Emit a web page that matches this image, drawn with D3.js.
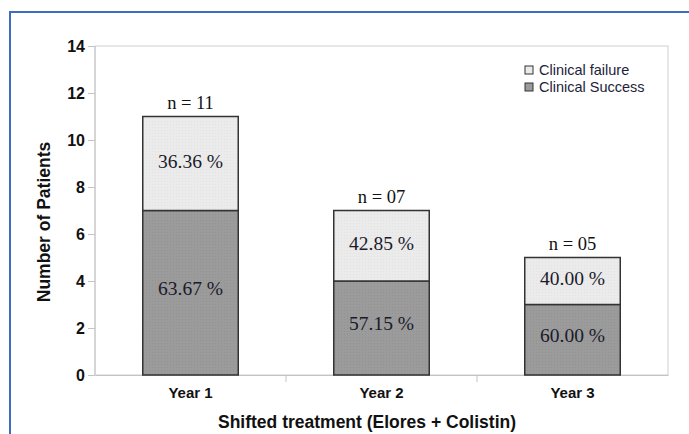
<!DOCTYPE html>
<html>
<head>
<meta charset="utf-8">
<script src="https://cdn.jsdelivr.net/npm/d3@7/dist/d3.min.js"></script>
<style>
  html, body { margin: 0; padding: 0; background: #fff; }
  svg { display: block; }
</style>
</head>
<body>
<svg id="chart" width="689" height="434"></svg>
<script>
// Patients per year on the shifted treatment
const years = ["Year 1", "Year 2", "Year 3"];
const success = [7, 4, 3];
const failure = [4, 3, 2];
const totalLabels = ["n = 11", "n = 07", "n = 05"];
const successPct = ["63.67 %", "57.15 %", "60.00 %"];
const failurePct = ["36.36 %", "42.85 %", "40.00 %"];
const yTicks = [0, 2, 4, 6, 8, 10, 12, 14];
const seriesNames = ["Clinical failure", "Clinical Success"];

const colors = { failure: "#ebebeb", success: "#9b9b9b" };
const sans = "'Liberation Sans', Arial, sans-serif";
const serif = "'Liberation Serif', 'Times New Roman', serif";

const svg = d3.select("#chart");
const margin = { left: 95, right: 21, top: 46, bottom: 59 };
const W = 689, H = 434;
const plotW = W - margin.left - margin.right;
const plotH = H - margin.top - margin.bottom;

// frame around the figure
svg.append("line").attr("x1", 10).attr("x2", W).attr("y1", 12).attr("y2", 12)
  .attr("stroke", "#3d6cc0").attr("stroke-width", 2);
svg.append("line").attr("x1", 10).attr("x2", 10).attr("y1", 11).attr("y2", H)
  .attr("stroke", "#3d6cc0").attr("stroke-width", 2);

const g = svg.append("g").attr("transform", `translate(${margin.left},${margin.top})`);

const x = d3.scaleBand().domain(years).range([0, plotW]).paddingInner(0.5).paddingOuter(0.25);
const y = d3.scaleLinear().domain([0, 14]).range([plotH, 0]);

// plot-area border
g.append("rect").attr("x", 0).attr("y", 0).attr("width", plotW).attr("height", plotH)
  .attr("fill", "none").attr("stroke", "#cfcfcf").attr("stroke-width", 1);

// dotted texture for the bar fills
const defs = svg.append("defs");
function texture(id, base, dot) {
  const p = defs.append("pattern").attr("id", id).attr("patternUnits", "userSpaceOnUse")
    .attr("width", 3).attr("height", 3);
  p.append("rect").attr("width", 3).attr("height", 3).attr("fill", base);
  p.append("rect").attr("width", 1).attr("height", 1).attr("fill", dot);
}
texture("texF", colors.failure, "#e2e2e2");
texture("texS", colors.success, "#929292");

function boldLabels(sel, size) {
  sel.attr("fill", "#111").attr("font-family", sans).attr("font-size", size).attr("font-weight", "bold")
    .style("font-family", sans).style("font-size", size + "px").style("font-weight", "bold");
}

// y axis
const yAxis = g.append("g").call(d3.axisLeft(y).tickValues(yTicks).tickSize(7).tickPadding(3));
yAxis.select(".domain").attr("stroke", "#c4c4c4").attr("d", `M0,${plotH}V0`);
yAxis.selectAll(".tick line").attr("stroke", "#c4c4c4");
boldLabels(yAxis.selectAll(".tick text"), 16);

// x axis: ticks sit on the band boundaries
const xAxis = g.append("g").attr("transform", `translate(0,${plotH})`)
  .call(d3.axisBottom(x).tickSize(0).tickPadding(12));
xAxis.select(".domain").attr("stroke", "#c4c4c4");
boldLabels(xAxis.selectAll(".tick text"), 15);
const step = x.step();
const bounds = [1, 2].map(i => x(years[i]) - x.paddingInner() * step / 2);
g.selectAll(".xb").data(bounds).enter().append("line")
  .attr("x1", d => d).attr("x2", d => d).attr("y1", plotH).attr("y2", plotH + 7)
  .attr("stroke", "#c4c4c4");

// bars
const bw = x.bandwidth();
const bars = g.selectAll(".bar").data(years).enter().append("g");
bars.append("rect")
  .attr("x", d => x(d)).attr("width", bw)
  .attr("y", (d, i) => y(success[i])).attr("height", (d, i) => y(0) - y(success[i]))
  .attr("fill", "url(#texS)").attr("stroke", "#333").attr("stroke-width", 1.5);
bars.append("rect")
  .attr("x", d => x(d)).attr("width", bw)
  .attr("y", (d, i) => y(success[i] + failure[i])).attr("height", (d, i) => y(success[i]) - y(success[i] + failure[i]))
  .attr("fill", "url(#texF)").attr("stroke", "#333").attr("stroke-width", 1.5);

bars.append("text")
  .attr("x", d => x(d) + bw / 2)
  .attr("y", (d, i) => (y(success[i]) + y(success[i] + failure[i])) / 2 + 4)
  .attr("text-anchor", "middle").style("font-family", serif).style("font-size", "19.5px").attr("fill", "#1a1a2a")
  .text((d, i) => failurePct[i]);
bars.append("text")
  .attr("x", d => x(d) + bw / 2)
  .attr("y", (d, i) => (y(0) + y(success[i])) / 2 + 2)
  .attr("text-anchor", "middle").style("font-family", serif).style("font-size", "19.5px").attr("fill", "#1a1a2a")
  .text((d, i) => successPct[i]);
bars.append("text")
  .attr("x", d => x(d) + bw / 2)
  .attr("y", (d, i) => y(success[i] + failure[i]) - 8)
  .attr("text-anchor", "middle").style("font-family", serif).style("font-size", "18.5px").attr("fill", "#111")
  .text((d, i) => totalLabels[i]);

// legend
const legend = g.append("g").attr("transform", `translate(${525 - margin.left},${66 - margin.top})`);
[colors.failure, colors.success].forEach((c, i) => {
  legend.append("rect").attr("x", 0).attr("y", i * 17).attr("width", 8).attr("height", 8)
    .attr("fill", c).attr("stroke", "#333").attr("stroke-width", 1);
  legend.append("text").attr("x", 14).attr("y", i * 17 + 9)
    .style("font-family", sans).style("font-size", "14.5px").attr("fill", "#1e1e3a")
    .text(seriesNames[i]);
});

// axis titles
boldLabels(svg.append("text").attr("transform", `translate(50,${222}) rotate(-90)`)
  .attr("text-anchor", "middle").text("Number of Patients"), 17.5);
boldLabels(svg.append("text").attr("x", 367).attr("y", 428)
  .attr("text-anchor", "middle").text("Shifted treatment (Elores + Colistin)"), 17.5);
</script>
</body>
</html>
